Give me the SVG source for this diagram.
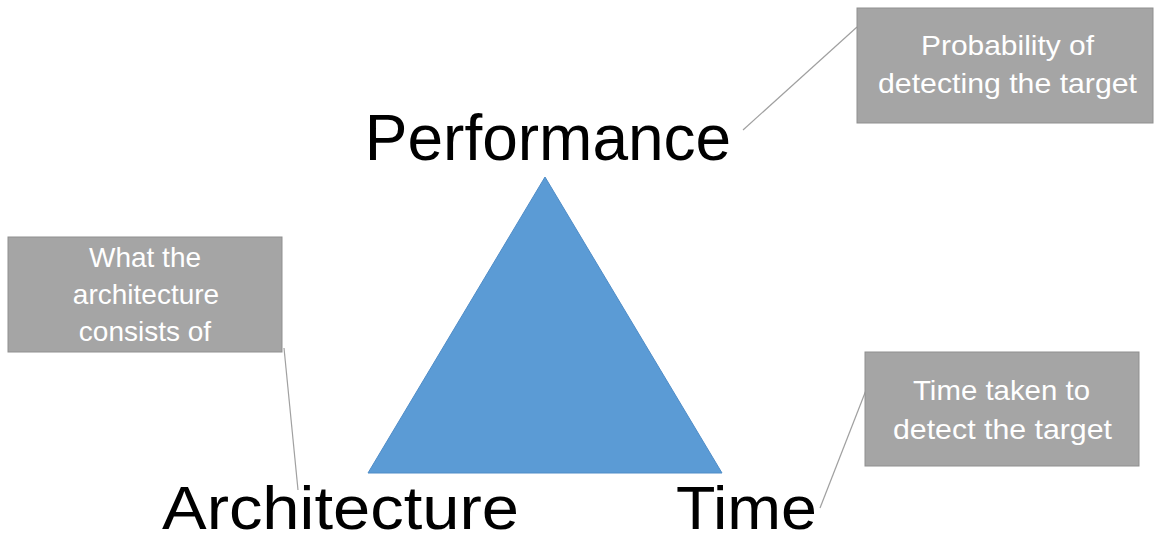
<svg xmlns="http://www.w3.org/2000/svg" width="1154" height="543" viewBox="0 0 1154 543">
<style>
.box{fill:#a5a5a5;stroke:#8f8f8f;stroke-width:1}
.bt{font-family:"Liberation Sans",Arial,sans-serif;font-size:28px;fill:#ffffff;text-anchor:middle}
.big{font-family:"Liberation Sans",Arial,sans-serif;fill:#000000}
.lead{stroke:#a0a0a0;stroke-width:1.2;fill:none}
</style>
<rect width="1154" height="543" fill="#ffffff"/>
<g id="connectors">
<line class="lead" x1="857" y1="27" x2="743" y2="130"/>
<line class="lead" x1="284" y1="348" x2="298" y2="490"/>
<line class="lead" x1="870" y1="380" x2="820" y2="508"/>
</g>
<g id="triangle">
<polygon points="545,177 368,473 722,473" fill="#5b9bd5" stroke="#4f8cc7" stroke-width="1"/>
</g>
<g id="performance">
<text class="big" x="548" y="160" font-size="64" text-anchor="middle">Performance</text>
</g>
<g id="architecture">
<text class="big" x="162" y="529" font-size="62" textLength="357" lengthAdjust="spacingAndGlyphs">Architecture</text>
</g>
<g id="time">
<text class="big" x="676" y="529" font-size="62" textLength="141" lengthAdjust="spacingAndGlyphs">Time</text>
</g>
<g id="box-performance">
<rect class="box" x="857" y="8" width="296" height="115"/>
<text class="bt" x="1007.5" y="55" textLength="173" lengthAdjust="spacingAndGlyphs">Probability of</text>
<text class="bt" x="1007.5" y="93" textLength="259" lengthAdjust="spacingAndGlyphs">detecting the target</text>
</g>
<g id="box-architecture">
<rect class="box" x="8" y="237" width="274" height="115"/>
<text class="bt" x="145" y="267">What the</text>
<text class="bt" x="146" y="304">architecture</text>
<text class="bt" x="145" y="341">consists of</text>
</g>
<g id="box-time">
<rect class="box" x="865" y="352" width="274" height="114"/>
<text class="bt" x="1001.5" y="400" textLength="177" lengthAdjust="spacingAndGlyphs">Time taken to</text>
<text class="bt" x="1002.5" y="439" textLength="219" lengthAdjust="spacingAndGlyphs">detect the target</text>
</g>
</svg>
